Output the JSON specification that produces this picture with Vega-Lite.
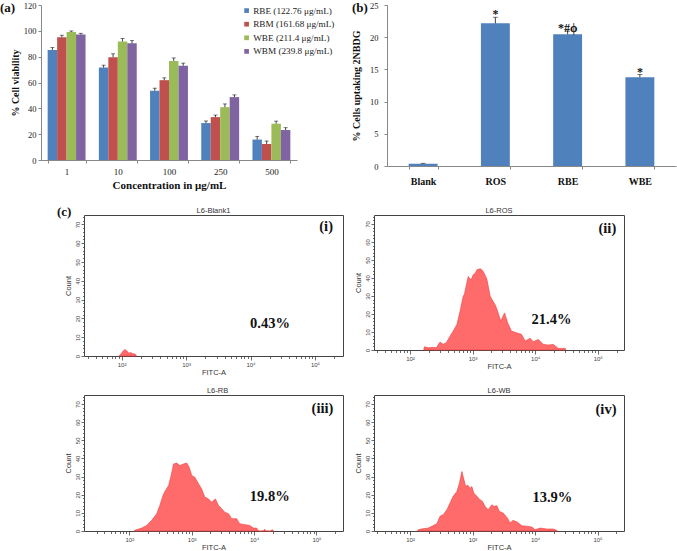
{
  "$schema": "https://vega.github.io/schema/vega-lite/v6.json",
  "autosize": {"type": "none"},
  "padding": {"left": 84, "top": 5, "right": 593, "bottom": 546},
  "background": "white",
  "config": {"view": {"stroke": null}, "axis": {"grid": false, "labelOverlap": false}},
  "columns": 2,
  "align": "each",
  "bounds": "flush",
  "spacing": {"row": 0, "column": 31},
  "concat": [
    {
      "width": 213, "height": 155,
      "title": {"text": "(a)", "anchor": "start", "frame": "group", "dx": -84, "dy": 14, "offset": 0, "font": "Liberation Serif", "fontSize": 13, "fontWeight": "bold", "color": "#111"},
      "data": {"values": [
        {"conc": "1", "series": "RBE (122.76 μg/mL)", "v": 85.2, "hi": 87.0},
        {"conc": "1", "series": "RBM (161.68 μg/mL)", "v": 95.0, "hi": 96.6},
        {"conc": "1", "series": "WBE (211.4 μg/mL)", "v": 99.1, "hi": 99.9},
        {"conc": "1", "series": "WBM (239.8 μg/mL)", "v": 97.1, "hi": 98.1},
        {"conc": "10", "series": "RBE (122.76 μg/mL)", "v": 71.6, "hi": 73.4},
        {"conc": "10", "series": "RBM (161.68 μg/mL)", "v": 79.6, "hi": 82.2},
        {"conc": "10", "series": "WBE (211.4 μg/mL)", "v": 91.8, "hi": 94.0},
        {"conc": "10", "series": "WBM (239.8 μg/mL)", "v": 90.3, "hi": 92.4},
        {"conc": "100", "series": "RBE (122.76 μg/mL)", "v": 53.6, "hi": 55.6},
        {"conc": "100", "series": "RBM (161.68 μg/mL)", "v": 61.8, "hi": 63.6},
        {"conc": "100", "series": "WBE (211.4 μg/mL)", "v": 76.7, "hi": 79.0},
        {"conc": "100", "series": "WBM (239.8 μg/mL)", "v": 73.0, "hi": 75.0},
        {"conc": "250", "series": "RBE (122.76 μg/mL)", "v": 28.6, "hi": 30.2},
        {"conc": "250", "series": "RBM (161.68 μg/mL)", "v": 33.2, "hi": 34.8},
        {"conc": "250", "series": "WBE (211.4 μg/mL)", "v": 40.9, "hi": 43.4},
        {"conc": "250", "series": "WBM (239.8 μg/mL)", "v": 48.7, "hi": 50.4},
        {"conc": "500", "series": "RBE (122.76 μg/mL)", "v": 15.8, "hi": 18.3},
        {"conc": "500", "series": "RBM (161.68 μg/mL)", "v": 12.4, "hi": 14.7},
        {"conc": "500", "series": "WBE (211.4 μg/mL)", "v": 28.1, "hi": 30.1},
        {"conc": "500", "series": "WBM (239.8 μg/mL)", "v": 23.2, "hi": 25.0}
      ]},
      "encoding": {
        "x": {"field": "conc", "type": "ordinal", "sort": ["1", "10", "100", "250", "500"],
          "scale": {"paddingInner": 0.26, "paddingOuter": 0.13, "range": [-43, 213]},
          "axis": {"title": "Concentration in μg/mL", "labelAngle": 0, "tickBand": "extent", "labelOverlap": false, "labelFont": "Liberation Serif", "labelFontSize": 9, "labelColor": "#222", "labelPadding": 4, "tickSize": 3, "tickColor": "#888", "domainColor": "#888", "titleFont": "Liberation Serif", "titleFontSize": 11, "titleFontWeight": "bold", "titleColor": "#111", "titlePadding": 3}},
        "xOffset": {"field": "series", "type": "nominal", "sort": ["RBE (122.76 μg/mL)", "RBM (161.68 μg/mL)", "WBE (211.4 μg/mL)", "WBM (239.8 μg/mL)"]},
        "y": {"field": "v", "type": "quantitative", "scale": {"domain": [0, 120], "nice": false},
          "axis": {"title": "% Cell viability", "offset": 43, "values": [0, 20, 40, 60, 80, 100, 120], "labelOverlap": false, "labelFont": "Liberation Serif", "labelFontSize": 8.5, "labelColor": "#222", "labelPadding": 2, "tickSize": 3, "tickColor": "#888", "domainColor": "#888", "titleFont": "Liberation Serif", "titleFontSize": 10, "titleFontWeight": "bold", "titleColor": "#111", "titlePadding": 3}}
      },
      "layer": [
        {"mark": {"type": "bar"},
         "encoding": {
           "color": {"field": "series", "type": "nominal", "sort": ["RBE (122.76 μg/mL)", "RBM (161.68 μg/mL)", "WBE (211.4 μg/mL)", "WBM (239.8 μg/mL)"],
             "scale": {"range": ["#4F81BD", "#C0504D", "#9BBB59", "#8064A2"]},
             "legend": {"orient": "none", "legendX": 158, "legendY": 1, "title": null, "labelFont": "Liberation Serif", "labelFontSize": 9.2, "labelColor": "#222", "symbolType": "square", "symbolSize": 22, "symbolStrokeWidth": 0, "rowPadding": 3.6, "labelOffset": 2}}
         }},
        {"mark": {"type": "rule", "color": "#111", "strokeWidth": 0.8},
         "encoding": {"y2": {"field": "hi"}}},
        {"mark": {"type": "tick", "orient": "horizontal", "size": 4, "thickness": 0.8, "color": "#111"},
         "encoding": {"y": {"field": "hi", "type": "quantitative",
           "axis": {"title": "% Cell viability", "offset": 43, "values": [0, 20, 40, 60, 80, 100, 120], "labelOverlap": false, "labelFont": "Liberation Serif", "labelFontSize": 8.5, "labelColor": "#222", "labelPadding": 2, "tickSize": 3, "tickColor": "#888", "domainColor": "#888", "titleFont": "Liberation Serif", "titleFontSize": 10, "titleFontWeight": "bold", "titleColor": "#111", "titlePadding": 3}}}}
      ]
    },
    {
      "width": 302, "height": 161,
      "title": {"text": "(b)", "anchor": "start", "frame": "group", "dx": -22, "dy": 14, "offset": 0, "font": "Liberation Serif", "fontSize": 13, "fontWeight": "bold", "color": "#111"},
      "data": {"values": [
        {"grp": "Blank", "v": 0.36, "hi": 0.42, "sig": ""},
        {"grp": "ROS", "v": 22.15, "hi": 23.1, "sig": "*"},
        {"grp": "RBE", "v": 20.45, "hi": 20.95, "sig": "*#ϕ"},
        {"grp": "WBE", "v": 13.77, "hi": 14.2, "sig": "*"}
      ]},
      "encoding": {
        "x": {"field": "grp", "type": "nominal", "sort": ["Blank", "ROS", "RBE", "WBE"],
          "scale": {"paddingInner": 0.6, "paddingOuter": 0.3, "range": [13, 302]},
          "axis": {"title": null, "labelAngle": 0, "tickBand": "extent", "labelOverlap": false, "labelFont": "Liberation Serif", "labelFontSize": 10, "labelFontWeight": "bold", "labelColor": "#111", "labelPadding": 7, "tickSize": 3, "tickColor": "#888", "domainColor": "#888"}},
        "y": {"field": "v", "type": "quantitative", "scale": {"domain": [0, 25], "nice": false},
          "axis": {"title": "% Cells uptaking 2NBDG", "offset": -13, "values": [0, 5, 10, 15, 20, 25], "labelOverlap": false, "labelFont": "Liberation Serif", "labelFontSize": 8.5, "labelColor": "#222", "labelPadding": 6, "tickSize": 3, "tickColor": "#888", "domainColor": "#888", "titleFont": "Liberation Serif", "titleFontSize": 10, "titleFontWeight": "bold", "titleColor": "#111", "titlePadding": 8}}
      },
      "layer": [
        {"mark": {"type": "bar", "color": "#4F81BD"}},
        {"mark": {"type": "rule", "color": "#111", "strokeWidth": 0.8},
         "encoding": {"y2": {"field": "hi"}}},
        {"mark": {"type": "tick", "orient": "horizontal", "size": 5, "thickness": 0.8, "color": "#111"},
         "encoding": {"y": {"field": "hi", "type": "quantitative",
           "axis": {"title": "% Cells uptaking 2NBDG", "offset": -13, "values": [0, 5, 10, 15, 20, 25], "labelOverlap": false, "labelFont": "Liberation Serif", "labelFontSize": 8.5, "labelColor": "#222", "labelPadding": 6, "tickSize": 3, "tickColor": "#888", "domainColor": "#888", "titleFont": "Liberation Serif", "titleFontSize": 10, "titleFontWeight": "bold", "titleColor": "#111", "titlePadding": 8}}}},
        {"mark": {"type": "text", "font": "Liberation Serif", "fontSize": 12, "fontWeight": "bold", "color": "#111", "baseline": "alphabetic", "dy": 1},
         "encoding": {"y": {"field": "hi", "type": "quantitative",
           "axis": {"title": "% Cells uptaking 2NBDG", "offset": -13, "values": [0, 5, 10, 15, 20, 25], "labelOverlap": false, "labelFont": "Liberation Serif", "labelFontSize": 8.5, "labelColor": "#222", "labelPadding": 6, "tickSize": 3, "tickColor": "#888", "domainColor": "#888", "titleFont": "Liberation Serif", "titleFontSize": 10, "titleFontWeight": "bold", "titleColor": "#111", "titlePadding": 8}},
           "text": {"field": "sig"}}}
      ]
    },
    {"width": 1, "height": 49,
     "title": {"text": "(c)", "orient": "bottom", "anchor": "start", "frame": "group", "dx": -27, "dy": -9, "offset": 0, "font": "Liberation Serif", "fontSize": 13, "fontWeight": "bold", "color": "#111"},
     "data": {"values": []}, "mark": "point", "encoding": {}},
    {"width": 1, "height": 49, "data": {"values": []}, "mark": "point", "encoding": {}},
    {
      "width": 259, "height": 141,
      "view": {"stroke": "#444", "strokeWidth": 1},
      "title": {"text": "L6-Blank1", "font": "Liberation Sans", "fontSize": 7.5, "fontWeight": "normal", "color": "#333", "offset": 1},
      "layer": [
        {"data": {"values": [
          {"fitc": 91.2, "count": 0}, {"fitc": 97.7, "count": 1}, {"fitc": 104.7, "count": 2.5}, {"fitc": 112, "count": 3.5},
          {"fitc": 120, "count": 2.8}, {"fitc": 129, "count": 1.5}, {"fitc": 138, "count": 1.8}, {"fitc": 150, "count": 1.2},
          {"fitc": 162, "count": 1}, {"fitc": 170, "count": 0}
         ]},
         "mark": {"type": "area", "fill": "#FF6B6B", "stroke": "#F03A3A", "strokeWidth": 0.6, "interpolate": "linear"},
         "encoding": {
           "x": {"field": "fitc", "type": "quantitative", "scale": {"type": "log", "domain": [26.1, 271600], "nice": false},
             "axis": {"title": "FITC-A", "titleFont": "Liberation Sans", "titleFontSize": 7.5, "titleFontWeight": "normal", "titleColor": "#333", "titlePadding": 1,
               "values": [30, 40, 50, 60, 70, 80, 90, 100, 200, 300, 400, 500, 600, 700, 800, 900, 1000, 2000, 3000, 4000, 5000, 6000, 7000, 8000, 9000, 10000, 20000, 30000, 40000, 50000, 60000, 70000, 80000, 90000, 100000, 200000],
               "labelExpr": "datum.value === 100 ? '10²' : datum.value === 1000 ? '10³' : datum.value === 10000 ? '10⁴' : datum.value === 100000 ? '10⁵' : ''",
               "labelFont": "Liberation Sans", "labelFontSize": 6, "labelColor": "#444", "labelPadding": 1, "labelFlush": false, "labelOverlap": false,
               "tickColor": "#444", "tickWidth": 0.8, "tickSize": {"condition": {"test": "datum.value === 100 || datum.value === 1000 || datum.value === 10000 || datum.value === 100000", "value": 4}, "value": 2.5},
               "domain": false}},
           "y": {"field": "count", "type": "quantitative", "scale": {"domain": [0, 75], "nice": false},
             "axis": {"title": "Count", "titleFont": "Liberation Sans", "titleFontSize": 7.5, "titleFontWeight": "normal", "titleColor": "#333", "titlePadding": 2,
               "values": [0, 2, 4, 6, 8, 10, 12, 14, 16, 18, 20, 22, 24, 26, 28, 30, 32, 34, 36, 38, 40, 42, 44, 46, 48, 50, 52, 54, 56, 58, 60, 62, 64, 66, 68, 70, 72, 74],
               "labelExpr": "datum.value % 10 === 0 ? datum.label : ''", "labelAngle": -90, "labelFont": "Liberation Sans", "labelFontSize": 6, "labelColor": "#444", "labelPadding": 1, "labelOverlap": false,
               "tickColor": "#444", "tickWidth": 0.8, "tickSize": {"condition": {"test": "datum.value % 10 === 0", "value": 3}, "value": 1.5},
               "domain": false}}
         }},
        {"data": {"values": [{"fitc": 20000, "count": 15, "label": "0.43%"}, {"fitc": 148600, "count": 66.5, "label": "(i)"}]},
         "mark": {"type": "text", "font": "Liberation Serif", "fontWeight": "bold", "fontSize": 14.5, "align": "center", "baseline": "alphabetic", "color": "#111"},
         "encoding": {
           "x": {"field": "fitc", "type": "quantitative",
             "axis": {"title": "FITC-A", "titleFont": "Liberation Sans", "titleFontSize": 7.5, "titleFontWeight": "normal", "titleColor": "#333", "titlePadding": 1,
               "values": [30, 40, 50, 60, 70, 80, 90, 100, 200, 300, 400, 500, 600, 700, 800, 900, 1000, 2000, 3000, 4000, 5000, 6000, 7000, 8000, 9000, 10000, 20000, 30000, 40000, 50000, 60000, 70000, 80000, 90000, 100000, 200000],
               "labelExpr": "datum.value === 100 ? '10²' : datum.value === 1000 ? '10³' : datum.value === 10000 ? '10⁴' : datum.value === 100000 ? '10⁵' : ''",
               "labelFont": "Liberation Sans", "labelFontSize": 6, "labelColor": "#444", "labelPadding": 1, "labelFlush": false, "labelOverlap": false,
               "tickColor": "#444", "tickWidth": 0.8, "tickSize": {"condition": {"test": "datum.value === 100 || datum.value === 1000 || datum.value === 10000 || datum.value === 100000", "value": 4}, "value": 2.5},
               "domain": false}},
           "y": {"field": "count", "type": "quantitative",
             "axis": {"title": "Count", "titleFont": "Liberation Sans", "titleFontSize": 7.5, "titleFontWeight": "normal", "titleColor": "#333", "titlePadding": 2,
               "values": [0, 2, 4, 6, 8, 10, 12, 14, 16, 18, 20, 22, 24, 26, 28, 30, 32, 34, 36, 38, 40, 42, 44, 46, 48, 50, 52, 54, 56, 58, 60, 62, 64, 66, 68, 70, 72, 74],
               "labelExpr": "datum.value % 10 === 0 ? datum.label : ''", "labelAngle": -90, "labelFont": "Liberation Sans", "labelFontSize": 6, "labelColor": "#444", "labelPadding": 1, "labelOverlap": false,
               "tickColor": "#444", "tickWidth": 0.8, "tickSize": {"condition": {"test": "datum.value % 10 === 0", "value": 3}, "value": 1.5},
               "domain": false}},
           "text": {"field": "label"}}}
      ]
    },
    {
      "width": 250, "height": 135,
      "view": {"stroke": "#444", "strokeWidth": 1},
      "title": {"text": "L6-ROS", "font": "Liberation Sans", "fontSize": 7.5, "fontWeight": "normal", "color": "#333", "offset": 1},
      "layer": [
        {"data": {"values": [
          {"fitc": 166, "count": 0}, {"fitc": 170, "count": 1.8}, {"fitc": 200, "count": 1.2}, {"fitc": 229, "count": 1.5},
          {"fitc": 263, "count": 1.2}, {"fitc": 302, "count": 4.4}, {"fitc": 339, "count": 3.2}, {"fitc": 380, "count": 4},
          {"fitc": 407, "count": 5.9}, {"fitc": 490, "count": 10.5}, {"fitc": 562, "count": 14.2}, {"fitc": 631, "count": 21.5},
          {"fitc": 708, "count": 29.8}, {"fitc": 741, "count": 31}, {"fitc": 776, "count": 34.4}, {"fitc": 851, "count": 40.9},
          {"fitc": 933, "count": 39}, {"fitc": 977, "count": 40}, {"fitc": 1023, "count": 41.8}, {"fitc": 1096, "count": 42.5},
          {"fitc": 1175, "count": 44.6}, {"fitc": 1318, "count": 45.1}, {"fitc": 1380, "count": 44.8}, {"fitc": 1479, "count": 43.6},
          {"fitc": 1622, "count": 40.9}, {"fitc": 1698, "count": 39}, {"fitc": 1778, "count": 35.4}, {"fitc": 1905, "count": 30},
          {"fitc": 2042, "count": 28}, {"fitc": 2291, "count": 25.2}, {"fitc": 2512, "count": 21.5}, {"fitc": 2818, "count": 16},
          {"fitc": 3236, "count": 20.6}, {"fitc": 3631, "count": 15.1}, {"fitc": 4169, "count": 10.5}, {"fitc": 5012, "count": 9.6},
          {"fitc": 6026, "count": 8.7}, {"fitc": 6918, "count": 5}, {"fitc": 8318, "count": 6.5}, {"fitc": 9333, "count": 4.6},
          {"fitc": 11220, "count": 5.9}, {"fitc": 13490, "count": 3.1}, {"fitc": 16220, "count": 2.8}, {"fitc": 19500, "count": 3.1},
          {"fitc": 23440, "count": 0.9}, {"fitc": 30200, "count": 0.9}, {"fitc": 30900, "count": 0}
         ]},
         "mark": {"type": "area", "fill": "#FF6B6B", "stroke": "#F03A3A", "strokeWidth": 0.6, "interpolate": "linear"},
         "encoding": {
           "x": {"field": "fitc", "type": "quantitative", "scale": {"type": "log", "domain": [26.6, 262400], "nice": false},
             "axis": {"title": "FITC-A", "titleFont": "Liberation Sans", "titleFontSize": 7.5, "titleFontWeight": "normal", "titleColor": "#333", "titlePadding": 1,
               "values": [30, 40, 50, 60, 70, 80, 90, 100, 200, 300, 400, 500, 600, 700, 800, 900, 1000, 2000, 3000, 4000, 5000, 6000, 7000, 8000, 9000, 10000, 20000, 30000, 40000, 50000, 60000, 70000, 80000, 90000, 100000, 200000],
               "labelExpr": "datum.value === 100 ? '10²' : datum.value === 1000 ? '10³' : datum.value === 10000 ? '10⁴' : datum.value === 100000 ? '10⁵' : ''",
               "labelFont": "Liberation Sans", "labelFontSize": 6, "labelColor": "#444", "labelPadding": 1, "labelFlush": false, "labelOverlap": false,
               "tickColor": "#444", "tickWidth": 0.8, "tickSize": {"condition": {"test": "datum.value === 100 || datum.value === 1000 || datum.value === 10000 || datum.value === 100000", "value": 4}, "value": 2.5},
               "domain": false}},
           "y": {"field": "count", "type": "quantitative", "scale": {"domain": [0, 75], "nice": false},
             "axis": {"title": "Count", "titleFont": "Liberation Sans", "titleFontSize": 7.5, "titleFontWeight": "normal", "titleColor": "#333", "titlePadding": 2,
               "values": [0, 2, 4, 6, 8, 10, 12, 14, 16, 18, 20, 22, 24, 26, 28, 30, 32, 34, 36, 38, 40, 42, 44, 46, 48, 50, 52, 54, 56, 58, 60, 62, 64, 66, 68, 70, 72, 74],
               "labelExpr": "datum.value % 10 === 0 ? datum.label : ''", "labelAngle": -90, "labelFont": "Liberation Sans", "labelFontSize": 6, "labelColor": "#444", "labelPadding": 1, "labelOverlap": false,
               "tickColor": "#444", "tickWidth": 0.8, "tickSize": {"condition": {"test": "datum.value % 10 === 0", "value": 3}, "value": 1.5},
               "domain": false}}
         }},
        {"data": {"values": [{"fitc": 18200, "count": 14.4, "label": "21.4%"}, {"fitc": 142300, "count": 65.2, "label": "(ii)"}]},
         "mark": {"type": "text", "font": "Liberation Serif", "fontWeight": "bold", "fontSize": 14.5, "align": "center", "baseline": "alphabetic", "color": "#111"},
         "encoding": {
           "x": {"field": "fitc", "type": "quantitative",
             "axis": {"title": "FITC-A", "titleFont": "Liberation Sans", "titleFontSize": 7.5, "titleFontWeight": "normal", "titleColor": "#333", "titlePadding": 1,
               "values": [30, 40, 50, 60, 70, 80, 90, 100, 200, 300, 400, 500, 600, 700, 800, 900, 1000, 2000, 3000, 4000, 5000, 6000, 7000, 8000, 9000, 10000, 20000, 30000, 40000, 50000, 60000, 70000, 80000, 90000, 100000, 200000],
               "labelExpr": "datum.value === 100 ? '10²' : datum.value === 1000 ? '10³' : datum.value === 10000 ? '10⁴' : datum.value === 100000 ? '10⁵' : ''",
               "labelFont": "Liberation Sans", "labelFontSize": 6, "labelColor": "#444", "labelPadding": 1, "labelFlush": false, "labelOverlap": false,
               "tickColor": "#444", "tickWidth": 0.8, "tickSize": {"condition": {"test": "datum.value === 100 || datum.value === 1000 || datum.value === 10000 || datum.value === 100000", "value": 4}, "value": 2.5},
               "domain": false}},
           "y": {"field": "count", "type": "quantitative",
             "axis": {"title": "Count", "titleFont": "Liberation Sans", "titleFontSize": 7.5, "titleFontWeight": "normal", "titleColor": "#333", "titlePadding": 2,
               "values": [0, 2, 4, 6, 8, 10, 12, 14, 16, 18, 20, 22, 24, 26, 28, 30, 32, 34, 36, 38, 40, 42, 44, 46, 48, 50, 52, 54, 56, 58, 60, 62, 64, 66, 68, 70, 72, 74],
               "labelExpr": "datum.value % 10 === 0 ? datum.label : ''", "labelAngle": -90, "labelFont": "Liberation Sans", "labelFontSize": 6, "labelColor": "#444", "labelPadding": 1, "labelOverlap": false,
               "tickColor": "#444", "tickWidth": 0.8, "tickSize": {"condition": {"test": "datum.value % 10 === 0", "value": 3}, "value": 1.5},
               "domain": false}},
           "text": {"field": "label"}}}
      ]
    },
    {"width": 1, "height": 39, "data": {"values": []}, "mark": "point", "encoding": {}},
    {"width": 1, "height": 39, "data": {"values": []}, "mark": "point", "encoding": {}},
    {
      "width": 259, "height": 136,
      "view": {"stroke": "#444", "strokeWidth": 1},
      "title": {"text": "L6-RB", "font": "Liberation Sans", "fontSize": 7.5, "fontWeight": "normal", "color": "#333", "offset": 1, "dx": 4},
      "layer": [
        {"data": {"values": [
          {"fitc": 120, "count": 0}, {"fitc": 123, "count": 0.4}, {"fitc": 158.5, "count": 1.6}, {"fitc": 190.5, "count": 3.1},
          {"fitc": 229, "count": 5.9}, {"fitc": 275, "count": 9.5}, {"fitc": 309, "count": 14.1}, {"fitc": 347, "count": 19.6},
          {"fitc": 380, "count": 22.4}, {"fitc": 427, "count": 25.1}, {"fitc": 468, "count": 30.6}, {"fitc": 513, "count": 37},
          {"fitc": 575, "count": 37.5}, {"fitc": 646, "count": 36.1}, {"fitc": 741, "count": 37}, {"fitc": 832, "count": 37.5},
          {"fitc": 912, "count": 35.2}, {"fitc": 1000, "count": 30.6}, {"fitc": 1122, "count": 29.7}, {"fitc": 1288, "count": 26},
          {"fitc": 1445, "count": 23.2}, {"fitc": 1622, "count": 18.7}, {"fitc": 1862, "count": 17.7}, {"fitc": 2089, "count": 15.9},
          {"fitc": 2399, "count": 17.7}, {"fitc": 2692, "count": 14.1}, {"fitc": 3020, "count": 12.3}, {"fitc": 3388, "count": 10.4},
          {"fitc": 3890, "count": 9.5}, {"fitc": 4365, "count": 6.8}, {"fitc": 5248, "count": 6.8}, {"fitc": 5888, "count": 4},
          {"fitc": 7079, "count": 3.5}, {"fitc": 8511, "count": 3.1}, {"fitc": 9772, "count": 1.6}, {"fitc": 10960, "count": 1.6},
          {"fitc": 11750, "count": 0.2}, {"fitc": 12020, "count": 0}, {"fitc": 14130, "count": 0}, {"fitc": 14790, "count": 1},
          {"fitc": 15490, "count": 0}, {"fitc": 18620, "count": 0}, {"fitc": 19500, "count": 0.8}, {"fitc": 20420, "count": 0}
         ]},
         "mark": {"type": "area", "fill": "#FF6B6B", "stroke": "#F03A3A", "strokeWidth": 0.6, "interpolate": "linear"},
         "encoding": {
           "x": {"field": "fitc", "type": "quantitative", "scale": {"type": "log", "domain": [18.8, 266000], "nice": false},
             "axis": {"title": "FITC-A", "titleFont": "Liberation Sans", "titleFontSize": 7.5, "titleFontWeight": "normal", "titleColor": "#333", "titlePadding": 1,
               "values": [30, 40, 50, 60, 70, 80, 90, 100, 200, 300, 400, 500, 600, 700, 800, 900, 1000, 2000, 3000, 4000, 5000, 6000, 7000, 8000, 9000, 10000, 20000, 30000, 40000, 50000, 60000, 70000, 80000, 90000, 100000, 200000],
               "labelExpr": "datum.value === 100 ? '10²' : datum.value === 1000 ? '10³' : datum.value === 10000 ? '10⁴' : datum.value === 100000 ? '10⁵' : ''",
               "labelFont": "Liberation Sans", "labelFontSize": 6, "labelColor": "#444", "labelPadding": 1, "labelFlush": false, "labelOverlap": false,
               "tickColor": "#444", "tickWidth": 0.8, "tickSize": {"condition": {"test": "datum.value === 100 || datum.value === 1000 || datum.value === 10000 || datum.value === 100000", "value": 4}, "value": 2.5},
               "domain": false}},
           "y": {"field": "count", "type": "quantitative", "scale": {"domain": [0, 75], "nice": false},
             "axis": {"title": "Count", "titleFont": "Liberation Sans", "titleFontSize": 7.5, "titleFontWeight": "normal", "titleColor": "#333", "titlePadding": 2,
               "values": [0, 2, 4, 6, 8, 10, 12, 14, 16, 18, 20, 22, 24, 26, 28, 30, 32, 34, 36, 38, 40, 42, 44, 46, 48, 50, 52, 54, 56, 58, 60, 62, 64, 66, 68, 70, 72, 74],
               "labelExpr": "datum.value % 10 === 0 ? datum.label : ''", "labelAngle": -90, "labelFont": "Liberation Sans", "labelFontSize": 6, "labelColor": "#444", "labelPadding": 1, "labelOverlap": false,
               "tickColor": "#444", "tickWidth": 0.8, "tickSize": {"condition": {"test": "datum.value % 10 === 0", "value": 3}, "value": 1.5},
               "domain": false}}
         }},
        {"data": {"values": [{"fitc": 17800, "count": 16.5, "label": "19.8%"}, {"fitc": 124800, "count": 64.8, "label": "(iii)"}]},
         "mark": {"type": "text", "font": "Liberation Serif", "fontWeight": "bold", "fontSize": 14.5, "align": "center", "baseline": "alphabetic", "color": "#111"},
         "encoding": {
           "x": {"field": "fitc", "type": "quantitative",
             "axis": {"title": "FITC-A", "titleFont": "Liberation Sans", "titleFontSize": 7.5, "titleFontWeight": "normal", "titleColor": "#333", "titlePadding": 1,
               "values": [30, 40, 50, 60, 70, 80, 90, 100, 200, 300, 400, 500, 600, 700, 800, 900, 1000, 2000, 3000, 4000, 5000, 6000, 7000, 8000, 9000, 10000, 20000, 30000, 40000, 50000, 60000, 70000, 80000, 90000, 100000, 200000],
               "labelExpr": "datum.value === 100 ? '10²' : datum.value === 1000 ? '10³' : datum.value === 10000 ? '10⁴' : datum.value === 100000 ? '10⁵' : ''",
               "labelFont": "Liberation Sans", "labelFontSize": 6, "labelColor": "#444", "labelPadding": 1, "labelFlush": false, "labelOverlap": false,
               "tickColor": "#444", "tickWidth": 0.8, "tickSize": {"condition": {"test": "datum.value === 100 || datum.value === 1000 || datum.value === 10000 || datum.value === 100000", "value": 4}, "value": 2.5},
               "domain": false}},
           "y": {"field": "count", "type": "quantitative",
             "axis": {"title": "Count", "titleFont": "Liberation Sans", "titleFontSize": 7.5, "titleFontWeight": "normal", "titleColor": "#333", "titlePadding": 2,
               "values": [0, 2, 4, 6, 8, 10, 12, 14, 16, 18, 20, 22, 24, 26, 28, 30, 32, 34, 36, 38, 40, 42, 44, 46, 48, 50, 52, 54, 56, 58, 60, 62, 64, 66, 68, 70, 72, 74],
               "labelExpr": "datum.value % 10 === 0 ? datum.label : ''", "labelAngle": -90, "labelFont": "Liberation Sans", "labelFontSize": 6, "labelColor": "#444", "labelPadding": 1, "labelOverlap": false,
               "tickColor": "#444", "tickWidth": 0.8, "tickSize": {"condition": {"test": "datum.value % 10 === 0", "value": 3}, "value": 1.5},
               "domain": false}},
           "text": {"field": "label"}}}
      ]
    },
    {
      "width": 250, "height": 136,
      "view": {"stroke": "#444", "strokeWidth": 1},
      "title": {"text": "L6-WB", "font": "Liberation Sans", "fontSize": 7.5, "fontWeight": "normal", "color": "#333", "offset": 1},
      "layer": [
        {"data": {"values": [
          {"fitc": 132, "count": 0}, {"fitc": 135, "count": 0.7}, {"fitc": 162, "count": 1.3}, {"fitc": 195, "count": 1.6},
          {"fitc": 224, "count": 2.6}, {"fitc": 269, "count": 4}, {"fitc": 302, "count": 8.1}, {"fitc": 339, "count": 9},
          {"fitc": 389, "count": 11.7}, {"fitc": 437, "count": 15.4}, {"fitc": 490, "count": 19.1}, {"fitc": 562, "count": 21.8},
          {"fitc": 617, "count": 26.4}, {"fitc": 676, "count": 32.8}, {"fitc": 708, "count": 30}, {"fitc": 776, "count": 24.5},
          {"fitc": 832, "count": 25.4}, {"fitc": 912, "count": 23.6}, {"fitc": 977, "count": 24.5}, {"fitc": 1047, "count": 20.9},
          {"fitc": 1175, "count": 19.1}, {"fitc": 1318, "count": 17.2}, {"fitc": 1445, "count": 16.3}, {"fitc": 1585, "count": 13.6},
          {"fitc": 1778, "count": 11.7}, {"fitc": 2042, "count": 14.5}, {"fitc": 2188, "count": 13.6}, {"fitc": 2455, "count": 13.9},
          {"fitc": 2692, "count": 10.8}, {"fitc": 3090, "count": 9.9}, {"fitc": 3631, "count": 7.1}, {"fitc": 3981, "count": 4.4},
          {"fitc": 4467, "count": 5.9}, {"fitc": 5248, "count": 4.8}, {"fitc": 6166, "count": 2.9}, {"fitc": 7413, "count": 2.6},
          {"fitc": 8913, "count": 2.2}, {"fitc": 10000, "count": 0.7}, {"fitc": 12020, "count": 1.6}, {"fitc": 15490, "count": 1.1},
          {"fitc": 19500, "count": 1.1}, {"fitc": 22390, "count": 0.3}, {"fitc": 22900, "count": 0}
         ]},
         "mark": {"type": "area", "fill": "#FF6B6B", "stroke": "#F03A3A", "strokeWidth": 0.6, "interpolate": "linear"},
         "encoding": {
           "x": {"field": "fitc", "type": "quantitative", "scale": {"type": "log", "domain": [26.5, 265500], "nice": false},
             "axis": {"title": "FITC-A", "titleFont": "Liberation Sans", "titleFontSize": 7.5, "titleFontWeight": "normal", "titleColor": "#333", "titlePadding": 1,
               "values": [30, 40, 50, 60, 70, 80, 90, 100, 200, 300, 400, 500, 600, 700, 800, 900, 1000, 2000, 3000, 4000, 5000, 6000, 7000, 8000, 9000, 10000, 20000, 30000, 40000, 50000, 60000, 70000, 80000, 90000, 100000, 200000],
               "labelExpr": "datum.value === 100 ? '10²' : datum.value === 1000 ? '10³' : datum.value === 10000 ? '10⁴' : datum.value === 100000 ? '10⁵' : ''",
               "labelFont": "Liberation Sans", "labelFontSize": 6, "labelColor": "#444", "labelPadding": 1, "labelFlush": false, "labelOverlap": false,
               "tickColor": "#444", "tickWidth": 0.8, "tickSize": {"condition": {"test": "datum.value === 100 || datum.value === 1000 || datum.value === 10000 || datum.value === 100000", "value": 4}, "value": 2.5},
               "domain": false}},
           "y": {"field": "count", "type": "quantitative", "scale": {"domain": [0, 75], "nice": false},
             "axis": {"title": "Count", "titleFont": "Liberation Sans", "titleFontSize": 7.5, "titleFontWeight": "normal", "titleColor": "#333", "titlePadding": 2,
               "values": [0, 2, 4, 6, 8, 10, 12, 14, 16, 18, 20, 22, 24, 26, 28, 30, 32, 34, 36, 38, 40, 42, 44, 46, 48, 50, 52, 54, 56, 58, 60, 62, 64, 66, 68, 70, 72, 74],
               "labelExpr": "datum.value % 10 === 0 ? datum.label : ''", "labelAngle": -90, "labelFont": "Liberation Sans", "labelFontSize": 6, "labelColor": "#444", "labelPadding": 1, "labelOverlap": false,
               "tickColor": "#444", "tickWidth": 0.8, "tickSize": {"condition": {"test": "datum.value % 10 === 0", "value": 3}, "value": 1.5},
               "domain": false}}
         }},
        {"data": {"values": [{"fitc": 19000, "count": 15.9, "label": "13.9%"}, {"fitc": 136800, "count": 64.3, "label": "(iv)"}]},
         "mark": {"type": "text", "font": "Liberation Serif", "fontWeight": "bold", "fontSize": 14.5, "align": "center", "baseline": "alphabetic", "color": "#111"},
         "encoding": {
           "x": {"field": "fitc", "type": "quantitative",
             "axis": {"title": "FITC-A", "titleFont": "Liberation Sans", "titleFontSize": 7.5, "titleFontWeight": "normal", "titleColor": "#333", "titlePadding": 1,
               "values": [30, 40, 50, 60, 70, 80, 90, 100, 200, 300, 400, 500, 600, 700, 800, 900, 1000, 2000, 3000, 4000, 5000, 6000, 7000, 8000, 9000, 10000, 20000, 30000, 40000, 50000, 60000, 70000, 80000, 90000, 100000, 200000],
               "labelExpr": "datum.value === 100 ? '10²' : datum.value === 1000 ? '10³' : datum.value === 10000 ? '10⁴' : datum.value === 100000 ? '10⁵' : ''",
               "labelFont": "Liberation Sans", "labelFontSize": 6, "labelColor": "#444", "labelPadding": 1, "labelFlush": false, "labelOverlap": false,
               "tickColor": "#444", "tickWidth": 0.8, "tickSize": {"condition": {"test": "datum.value === 100 || datum.value === 1000 || datum.value === 10000 || datum.value === 100000", "value": 4}, "value": 2.5},
               "domain": false}},
           "y": {"field": "count", "type": "quantitative",
             "axis": {"title": "Count", "titleFont": "Liberation Sans", "titleFontSize": 7.5, "titleFontWeight": "normal", "titleColor": "#333", "titlePadding": 2,
               "values": [0, 2, 4, 6, 8, 10, 12, 14, 16, 18, 20, 22, 24, 26, 28, 30, 32, 34, 36, 38, 40, 42, 44, 46, 48, 50, 52, 54, 56, 58, 60, 62, 64, 66, 68, 70, 72, 74],
               "labelExpr": "datum.value % 10 === 0 ? datum.label : ''", "labelAngle": -90, "labelFont": "Liberation Sans", "labelFontSize": 6, "labelColor": "#444", "labelPadding": 1, "labelOverlap": false,
               "tickColor": "#444", "tickWidth": 0.8, "tickSize": {"condition": {"test": "datum.value % 10 === 0", "value": 3}, "value": 1.5},
               "domain": false}},
           "text": {"field": "label"}}}
      ]
    }
  ]
}
